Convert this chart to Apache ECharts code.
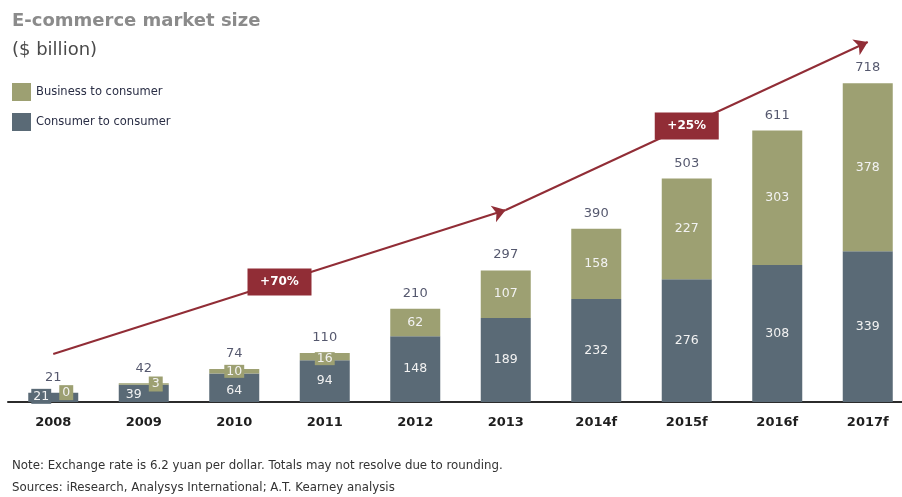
<!DOCTYPE html>
<html>
<head>
<meta charset="utf-8">
<script src="https://cdn.jsdelivr.net/npm/echarts@6/dist/echarts.min.js"></script>
<style>html,body{margin:0;padding:0;background:#fff}#c{width:902px;height:497px}</style>
</head>
<body>
<div id="c"></div>
<script>
const categories = ['2008','2009','2010','2011','2012','2013','2014f','2015f','2016f','2017f'];
const c2c = [21, 39, 64, 94, 148, 189, 232, 276, 308, 339];
const b2c = [0, 3, 10, 16, 62, 107, 158, 227, 303, 378];
const totals = [21, 42, 74, 110, 210, 297, 390, 503, 611, 718];
// growth arrow path: [category index, value]
const growthPath = [[0, 108], [5, 432], [9, 810]];
const growthLabels = ['+70%', '+25%'];

const GREEN = '#9da072', SLATE = '#5a6a76', RED = '#912d36';
const FONT = 'DejaVu Sans';

// small-bar label tweaks
const c2cLabelTweak = {
  0: {offset: [-12, -1], backgroundColor: SLATE, padding: [1, 2]},
  1: {offset: [-10, 1]},
  2: {offset: [0, 3]}
};
const b2cLabelTweak = {
  0: {position: 'inside', offset: [13, 0], backgroundColor: GREEN, padding: [1, 3]},
  1: {offset: [12, 0], backgroundColor: GREEN, padding: [1, 3]},
  2: {offset: [0, 0], backgroundColor: GREEN, padding: [0, 2]},
  3: {offset: [0, 2], backgroundColor: GREEN, padding: [0, 2]}
};

const c2cData = c2c.map((v, i) => c2cLabelTweak[i] ? {value: v, label: c2cLabelTweak[i]} : v);
const b2cData = b2c.map((v, i) => b2cLabelTweak[i] ? {value: v, label: b2cLabelTweak[i]} : v);

const segs = [];
for (let i = 0; i < growthPath.length - 1; i++) {
  segs.push([{coord: growthPath[i]}, {coord: growthPath[i + 1]}]);
}
const labelPts = growthLabels.map((t, i) => ({
  name: t,
  value: [(growthPath[i][0] + growthPath[i + 1][0]) / 2, (growthPath[i][1] + growthPath[i + 1][1]) / 2]
}));

const chart = echarts.init(document.getElementById('c'));
chart.setOption({
  animation: false,
  textStyle: {fontFamily: FONT},
  title: [
    {text: 'E-commerce market size', left: 7, top: 7,
     textStyle: {fontFamily: FONT, fontSize: 18, fontWeight: 'bold', color: '#8b8b8b'}},
    {text: '($ billion)', left: 7, top: 36,
     textStyle: {fontFamily: FONT, fontSize: 18, fontWeight: 'normal', color: '#4a4a4a'}},
    {text: 'Note: Exchange rate is 6.2 yuan per dollar. Totals may not resolve due to rounding.', left: 7, top: 455,
     textStyle: {fontFamily: FONT, fontSize: 11.8, fontWeight: 'normal', color: '#333'}},
    {text: 'Sources: iResearch, Analysys International; A.T. Kearney analysis', left: 7, top: 477,
     textStyle: {fontFamily: FONT, fontSize: 11.8, fontWeight: 'normal', color: '#333'}}
  ],
  legend: {
    orient: 'vertical', left: 7, top: 78, itemWidth: 19, itemHeight: 18, itemGap: 12,
    icon: 'rect', data: ['Business to consumer', 'Consumer to consumer'],
    textStyle: {fontFamily: FONT, fontSize: 11.5, color: '#2a2e45'}
  },
  grid: {left: 8, width: 905, top: 2, bottom: 95, outerBoundsMode: 'none', containLabel: false},
  xAxis: [
    {type: 'category', data: categories,
     axisTick: {show: false},
     axisLine: {lineStyle: {color: '#2b2b2b', width: 2}},
     axisLabel: {fontFamily: FONT, fontSize: 13, fontWeight: 'bold', color: '#1e1e1e', margin: 14}},
    {type: 'value', min: -0.5, max: 9.5, show: false}
  ],
  yAxis: {type: 'value', min: 0, max: 900, show: false},
  series: [
    {name: 'Consumer to consumer', type: 'bar', stack: 's', barWidth: 50, data: c2cData,
     itemStyle: {color: SLATE},
     label: {show: true, position: 'inside', fontFamily: FONT, fontSize: 12.5, color: '#f2f2f2'}},
    {name: 'Business to consumer', type: 'bar', stack: 's', barWidth: 50, data: b2cData,
     itemStyle: {color: GREEN},
     label: {show: true, position: 'inside', fontFamily: FONT, fontSize: 12.5, color: '#f2f2f2'}},
    {name: 'Total', type: 'scatter', data: totals, symbolSize: 1,
     itemStyle: {color: 'rgba(0,0,0,0)'},
     label: {show: true, position: 'top', distance: 8, fontFamily: FONT, fontSize: 13, color: '#2a2e4a'}},
    {name: 'Growth', type: 'scatter', xAxisIndex: 1, data: labelPts,
     symbol: 'rect', symbolSize: [64, 27], itemStyle: {color: RED, opacity: 1},
     label: {show: true, position: 'inside', formatter: '{b}', fontFamily: FONT, fontSize: 12, fontWeight: 'bold', color: '#fff'},
     markLine: {silent: true, symbol: ['none', 'arrow'], symbolSize: 13, z: 1,
       lineStyle: {color: RED, width: 2, type: 'solid', opacity: 1}, label: {show: false},
       data: segs},
     z: 5}
  ]
});
</script>
</body>
</html>
